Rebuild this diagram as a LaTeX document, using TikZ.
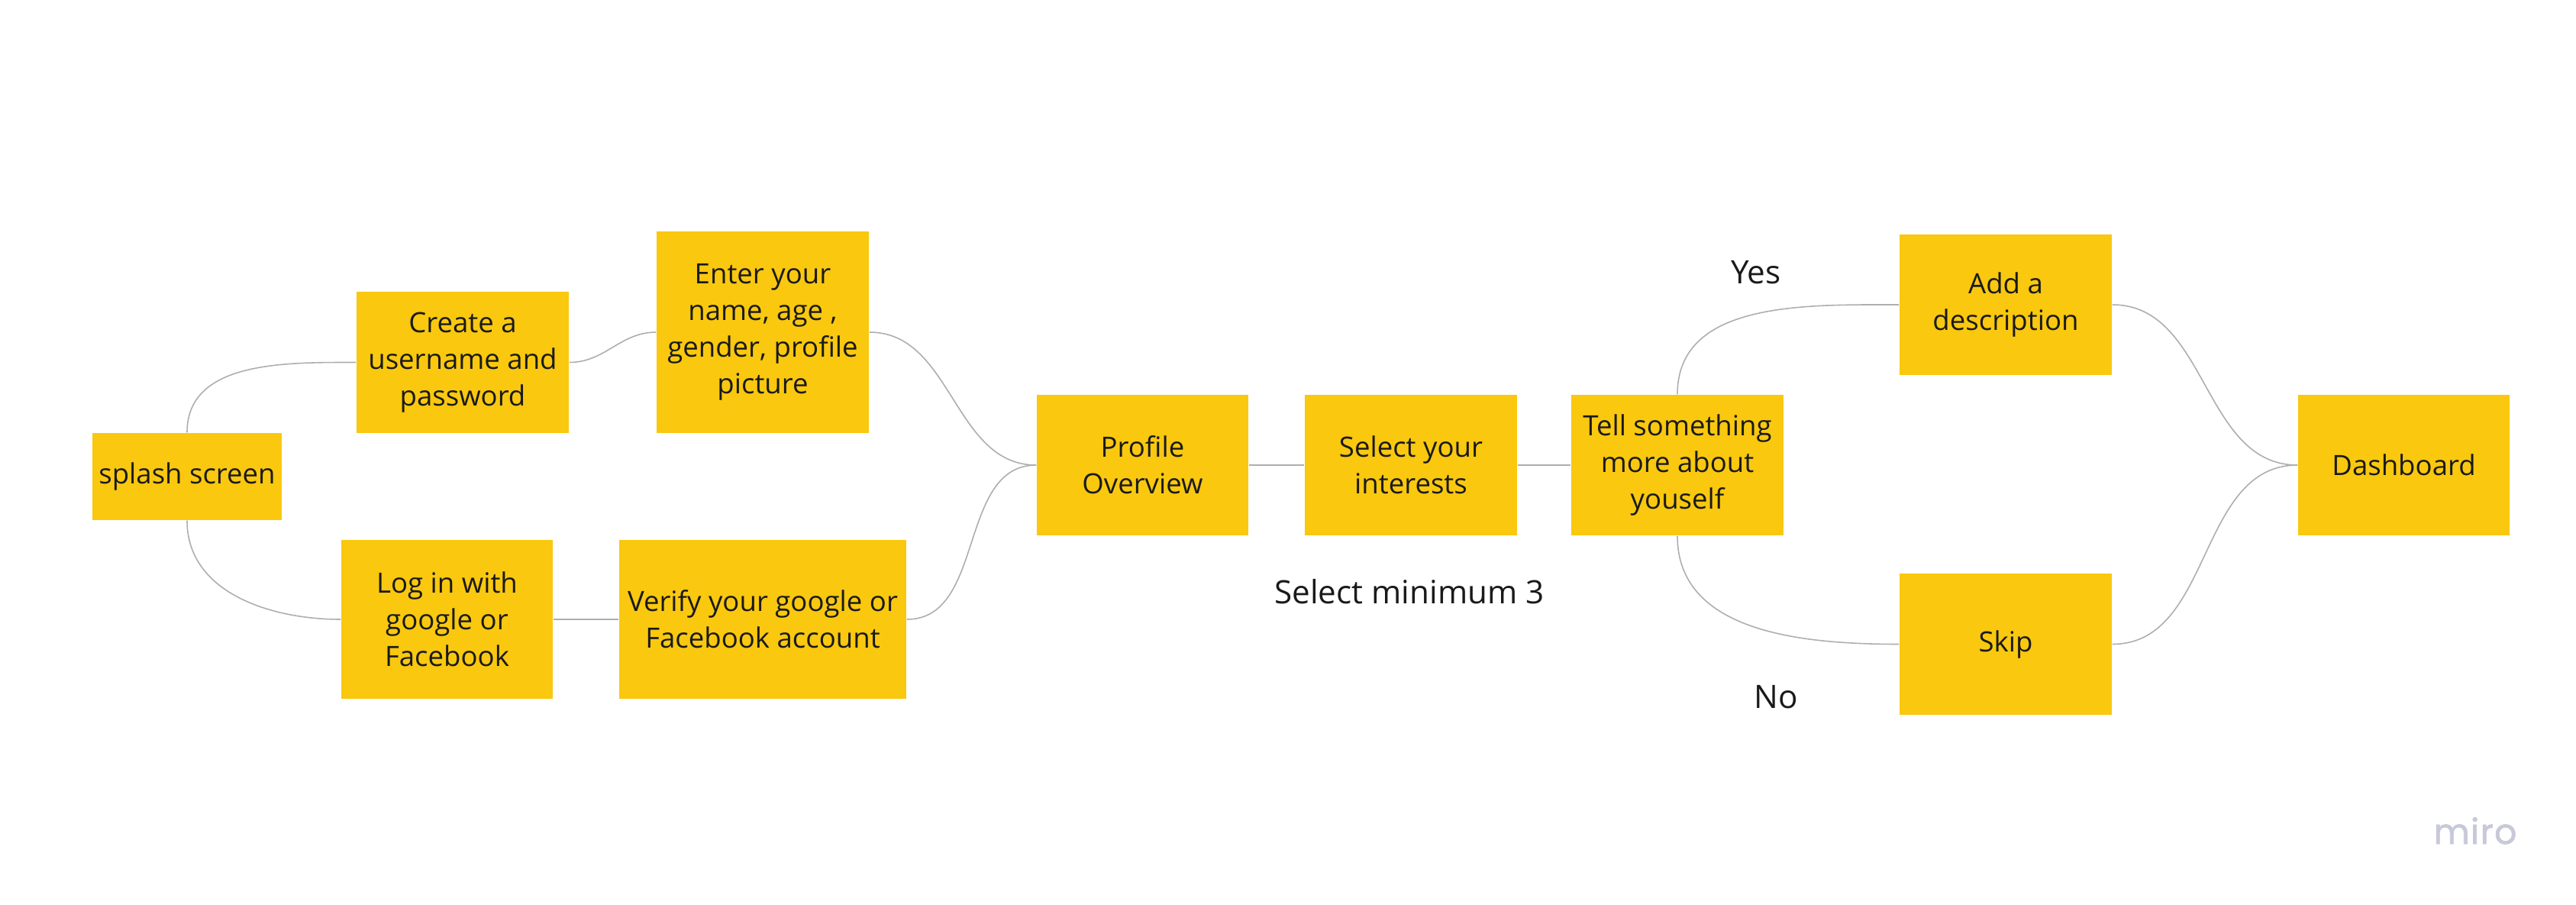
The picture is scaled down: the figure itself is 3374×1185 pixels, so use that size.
\documentclass[tikz,border=0pt]{standalone}
\usepackage{fontspec}
\setmainfont{Open Sans}
\newfontfamily\logofont[FakeBold=1.5,LetterSpace=3]{Poppins}
\definecolor{sticky}{HTML}{F9C80F}
\definecolor{conn}{HTML}{AEAEAE}
\definecolor{mirogrey}{HTML}{C8C9D8}
\definecolor{ink}{HTML}{1A1A1A}
\begin{document}
\begin{tikzpicture}[x=0.01cm,y=0.01cm,
  stickybox/.style={fill=sticky, draw=none, align=center, inner sep=0pt,
    text=ink, font=\fontsize{10.4pt}{13.7pt}\selectfont},
  wide278/.style={minimum width=2.78cm},
  tall184/.style={minimum height=1.84cm},
  link/.style={draw=conn, line width=0.45pt},
  lbl/.style={text=ink, font=\fontsize{12pt}{14pt}\selectfont, inner sep=0pt, anchor=base}]
\fill[white] (0,0) rectangle (3374,-1185);
\path[use as bounding box] (0,0) rectangle (3374,-1185);

\node[stickybox, minimum width=2.48cm, minimum height=1.14cm] (splash) at (245,-624) {splash screen};
\node[stickybox, wide278, minimum height=1.85cm] (create) at (606,-474.5) {Create a\\username and\\password};
\node[stickybox, wide278, minimum height=2.64cm] (enter) at (999,-435) {Enter your\\name, age ,\\gender, profile\\picture};
\node[stickybox, minimum width=2.77cm, minimum height=2.08cm] (login) at (585.5,-811) {Log in with\\google or\\Facebook};
\node[stickybox, minimum width=3.76cm, minimum height=2.08cm] (verify) at (999,-811) {Verify your google or\\Facebook account};
\node[stickybox, minimum width=2.77cm, tall184] (profile) at (1496.5,-609) {Profile\\Overview};
\node[stickybox, wide278, tall184] (select) at (1848,-609) {Select your\\interests};
\node[stickybox, wide278, tall184] (tell) at (2197,-609) {Tell something\\more about\\youself};
\node[stickybox, wide278, tall184] (add) at (2627,-399) {Add a\\description};
\node[stickybox, wide278, minimum height=1.85cm] (skip) at (2627,-843.5) {Skip};
\node[stickybox, minimum width=2.77cm, tall184] (dash) at (3148.5,-609) {Dashboard};

\node[lbl] (yes) at (2300,-371.5) {Yes};
\node[lbl] (no) at (2326,-927) {No};
\node[lbl] (minsel) at (1846,-790) {Select minimum 3};

\node[anchor=base, inner sep=0pt, text=mirogrey, font=\logofont\fontsize{13pt}{15pt}\selectfont] (logo) at (3242,-1105) {miro};

\draw[link] (splash.north) to[out=90,in=180] (create.west);
\draw[link] (splash.south) to[out=-90,in=180] (login.west);
\draw[link] (create.east) to[out=0,in=180] (enter.west);
\draw[link] (login.east) -- (verify.west);
\draw[link] (enter.east) to[out=0,in=180] (profile.west);
\draw[link] (verify.east) to[out=0,in=180] (profile.west);
\draw[link] (profile.east) -- (select.west);
\draw[link] (select.east) -- (tell.west);
\draw[link] (tell.north) to[out=90,in=180] (add.west);
\draw[link] (tell.south) to[out=-90,in=180] (skip.west);
\draw[link] (add.east) to[out=0,in=180] (dash.west);
\draw[link] (skip.east) to[out=0,in=180] (dash.west);
\end{tikzpicture}
\end{document}
